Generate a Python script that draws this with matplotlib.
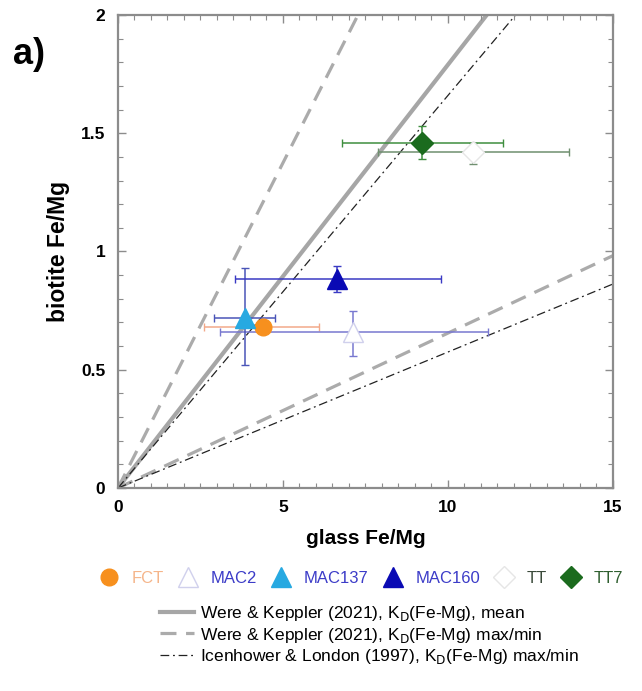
import matplotlib
matplotlib.use("Agg")
import matplotlib.pyplot as plt
from matplotlib.ticker import MultipleLocator

plt.rcParams['font.family'] = ['Liberation Sans', 'DejaVu Sans']

# samples: glass Fe/Mg vs biotite Fe/Mg with errors
names = ['FCT', 'MAC2', 'MAC137', 'MAC160', 'TT', 'TT7']
glass = [4.40, 7.13, 3.85, 6.65, 10.77, 9.22]
glass_lo = [2.60, 3.10, 2.92, 3.55, 7.89, 6.78]
glass_hi = [6.10, 11.20, 4.76, 9.78, 13.68, 11.66]
biot = [0.68, 0.66, 0.72, 0.885, 1.42, 1.46]
biot_lo = [0.67, 0.56, 0.52, 0.83, 1.37, 1.39]
biot_hi = [0.69, 0.75, 0.93, 0.94, 1.46, 1.53]

markers = ['o', '^', '^', '^', 'D', 'D']
faces = ['#f7901e', 'white', '#27a9e1', '#0a0ab4', 'white', '#1b6b1e']
edges = ['#f7901e', '#d0d0ec', '#27a9e1', '#0a0ab4', '#e6e6e6', '#1b6b1e']
barcol = ['#f2a98a', '#7878d0', '#4a55b8', '#3a3ac4', '#6f8f6f', '#3e8e3e']
txtcol = ['#f5b58a', '#3c3cc8', '#3c3cc8', '#3c3cc8', '#3a4a3a', '#2f5f2f']
msize = [12, 14, 14, 14, 11, 11]

# partition lines y = k * x
kd_mean = 0.179
kd_were = [0.275, 0.0655]
kd_ice = [0.166, 0.0575]

fig = plt.figure(figsize=(6.42, 6.91), dpi=100)
ax = fig.add_axes([0.1838, 0.2938, 0.7710, 0.6845])

xs = [0, 15]
ax.plot(xs, [kd_mean * x for x in xs], color='#a6a6a6', lw=3,
        label='Were & Keppler (2021), K$_{\\rm D}$(Fe-Mg), mean', zorder=1)
for i, k in enumerate(kd_were):
    ax.plot(xs, [k * x for x in xs], color='#ababab', lw=2.3, ls=(0, (5, 3)),
            label='Were & Keppler (2021), K$_{\\rm D}$(Fe-Mg) max/min' if i == 0 else None,
            zorder=1)
for i, k in enumerate(kd_ice):
    ax.plot(xs, [k * x for x in xs], color='#222222', lw=0.9, ls=(0, (7, 3, 1.5, 3)),
            label='Icenhower & London (1997), K$_{\\rm D}$(Fe-Mg) max/min' if i == 0 else None,
            zorder=1)

handles = []
for i in range(len(names)):
    xerr = [[glass[i] - glass_lo[i]], [glass_hi[i] - glass[i]]]
    yerr = [[biot[i] - biot_lo[i]], [biot_hi[i] - biot[i]]]
    ax.errorbar([glass[i]], [biot[i]], xerr=xerr, yerr=yerr, fmt='none',
                ecolor=barcol[i], elinewidth=1.1, capsize=3, capthick=1, zorder=2)
    h, = ax.plot([glass[i]], [biot[i]], ls='none', marker=markers[i], ms=msize[i],
                 mfc=faces[i], mec=edges[i], mew=1, zorder=3)
    handles.append(h)

ax.set_xlim(0, 15)
ax.set_ylim(0, 2)
ax.xaxis.set_major_locator(MultipleLocator(5))
ax.xaxis.set_minor_locator(MultipleLocator(0.5))
ax.yaxis.set_major_locator(MultipleLocator(0.5))
ax.yaxis.set_minor_locator(MultipleLocator(0.1))
ax.xaxis.set_major_formatter(plt.FuncFormatter(lambda v, p: '%g' % v))
ax.yaxis.set_major_formatter(plt.FuncFormatter(lambda v, p: '%g' % v))
ax.tick_params(which='both', direction='in', top=True, right=True, color='#8c8c8c')
ax.tick_params(which='major', length=6, width=1, labelsize=12.5, pad=9)
ax.tick_params(which='minor', length=3.5, width=0.8)
for lab in ax.get_xticklabels() + ax.get_yticklabels():
    lab.set_fontweight('bold')
for s in ax.spines.values():
    s.set_color('#8c8c8c')
    s.set_linewidth(1.6)

ax.set_xlabel('glass Fe/Mg', fontsize=15, fontweight='bold', labelpad=10)
ax.set_ylabel('biotite Fe/Mg', fontsize=16.5, fontweight='bold', labelpad=8)

fig.text(0.02, 0.908, 'a)', fontsize=26, fontweight='bold')

# legend of samples, one row
leg1 = fig.legend(handles, names, loc='center', bbox_to_anchor=(0.562, 0.163),
                  ncol=6, frameon=False, fontsize=12, handletextpad=0.7,
                  columnspacing=0.8, handlelength=1.3, markerscale=1.0)
for t, c in zip(leg1.get_texts(), txtcol):
    t.set_color(c)

# legend of partition lines
lh, ll = ax.get_legend_handles_labels()
fig.legend(lh, ll, loc='center', bbox_to_anchor=(0.575, 0.081), frameon=False,
           fontsize=12.5, handlelength=2.0, handletextpad=0.3, labelspacing=0.15)

fig.savefig('out.png', dpi=100)
